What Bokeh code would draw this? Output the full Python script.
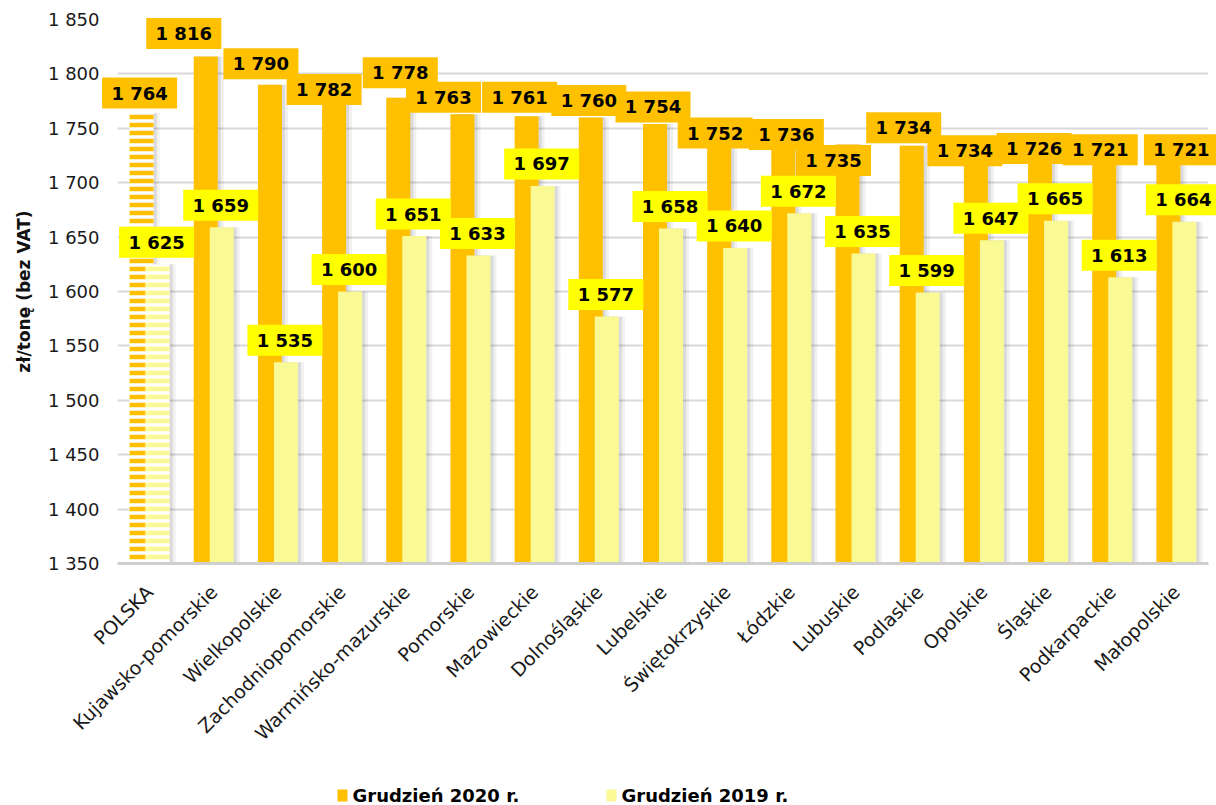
from bokeh.plotting import figure
from bokeh.layouts import column
from bokeh.models import Range1d, FixedTicker, ColumnDataSource
from bokeh.embed import file_html
from bokeh.resources import INLINE
from bokeh.core.properties import value

# ---------------- data ----------------
regions = ["POLSKA", "Kujawsko-pomorskie", "Wielkopolskie", "Zachodniopomorskie",
           "Warmińsko-mazurskie", "Pomorskie", "Mazowieckie", "Dolnośląskie",
           "Lubelskie", "Świętokrzyskie", "Łódzkie", "Lubuskie", "Podlaskie",
           "Opolskie", "Śląskie", "Podkarpackie", "Małopolskie"]
dec2020 = [1764, 1816, 1790, 1782, 1778, 1763, 1761, 1760, 1754, 1752,
           1736, 1735, 1734, 1734, 1726, 1721, 1721]
dec2019 = [1625, 1659, 1535, 1600, 1651, 1633, 1697, 1577, 1658, 1640,
           1672, 1635, 1599, 1647, 1665, 1613, 1664]
series_names = ["Grudzień 2020 r.", "Grudzień 2019 r."]
y_ticks = [1350, 1400, 1450, 1500, 1550, 1600, 1650, 1700, 1750, 1800, 1850]
y_tick_labels = ["1 350", "1 400", "1 450", "1 500", "1 550", "1 600",
                 "1 650", "1 700", "1 750", "1 800", "1 850"]
y_title = "zł/tonę (bez VAT)"

# ------------- layout / style -------------
W = 1216
H_MAIN, H_LEG = 763, 42
BL, BR, BT, BB = 117, 8, 19, 200
FW = W - BL - BR
FH = H_MAIN - BT - BB
Y0, Y1 = 1350, 1850
PX_X = FW / len(regions)
PX_Y = FH / (Y1 - Y0)
BAR_W = 24 / PX_X
OFF = 8 / PX_X

ORANGE = "#FFC000"
LIGHT = "#F9F996"
LBL_Y = "#FFFF00"
FONT = "DejaVu Sans"

# manual label shifts (pixels) for the 2020 series, as in the original chart
lab20_dx = [-2, -22, -9, -10, 2, -19, -7, -2, -2, -4, 3, -14, -8, -11, -6, -4, 13]
lab20_up = [20, 23, 21, 4, 25, 17, 19, 17, 17, -7, 9, -16, 18, -5, 6, 10, 10]
lab19_dx = -1
lab19_up = 22

def fmt(v):
    return f"{v:,}".replace(",", " ")

n = len(regions)
xc = [i + 0.5 for i in range(n)]

p = figure(width=W, height=H_MAIN, output_backend="svg", toolbar_location=None,
           x_range=Range1d(0, n), y_range=Range1d(Y0, Y1),
           min_border_left=BL, min_border_right=BR, min_border_top=BT,
           min_border_bottom=BB)
p.outline_line_color = None
p.background_fill_color = "white"
p.border_fill_color = "white"

# axes
p.xaxis.ticker = FixedTicker(ticks=xc)
p.xaxis.major_label_overrides = {x: r for x, r in zip(xc, regions)}
p.xaxis.major_label_orientation = 0.785398
p.xaxis.major_label_text_font = FONT
p.xaxis.major_label_text_font_size = "19px"
p.xaxis.major_label_text_color = "#1a1a1a"
p.xaxis.major_tick_out = 0
p.xaxis.major_tick_in = 0
p.xaxis.major_label_standoff = 25
p.xaxis.major_tick_line_color = None
p.xaxis.minor_tick_line_color = None
p.xaxis.axis_line_color = "#cfcfcf"
p.xaxis.axis_line_width = 3

p.yaxis.ticker = FixedTicker(ticks=y_ticks)
p.yaxis.major_label_overrides = {t: l for t, l in zip(y_ticks, y_tick_labels)}
p.yaxis.major_label_text_font = FONT
p.yaxis.major_label_text_font_size = "18px"
p.yaxis.major_label_text_color = "#1a1a1a"
p.yaxis.major_tick_out = 0
p.yaxis.major_tick_in = 0
p.yaxis.major_label_standoff = 18
p.yaxis.major_tick_line_color = None
p.yaxis.minor_tick_line_color = None
p.yaxis.axis_line_color = None
p.yaxis.axis_label = y_title
p.yaxis.axis_label_text_font = FONT
p.yaxis.axis_label_text_font_style = "bold"
p.yaxis.axis_label_text_font_size = "17px"
p.yaxis.axis_label_text_color = "#111111"
p.yaxis.axis_label_standoff = 11

p.xgrid.grid_line_color = None
p.ygrid.grid_line_color = "#d9d9d9"
p.ygrid.grid_line_width = 2

# sources
x20 = [x - OFF for x in xc]
x19 = [x + OFF for x in xc]
src20 = ColumnDataSource(dict(x=x20[1:], top=dec2020[1:]))
src19 = ColumnDataSource(dict(x=x19[1:], top=dec2019[1:]))
srcP20 = ColumnDataSource(dict(x=x20[:1], top=dec2020[:1]))
srcP19 = ColumnDataSource(dict(x=x19[:1], top=dec2019[:1]))

# soft shadows
for dx, extra, alpha in [(3, 6, 0.06), (2, 2, 0.09)]:
    sx = dx / PX_X
    p.vbar(x=[x + sx for x in x20], top=dec2020, bottom=Y0, width=BAR_W + extra / PX_X,
           fill_color="black", fill_alpha=alpha, line_color=None)
    p.vbar(x=[x + sx for x in x19], top=dec2019, bottom=Y0, width=BAR_W + extra / PX_X,
           fill_color="black", fill_alpha=alpha, line_color=None)

# bars
p.vbar(x="x", top="top", bottom=Y0, width=BAR_W, source=src20,
       fill_color=ORANGE, line_color=None)
p.vbar(x="x", top="top", bottom=Y0, width=BAR_W, source=srcP20,
       fill_color="white", line_color=None, hatch_pattern="horizontal_line",
       hatch_color=ORANGE, hatch_scale=8, hatch_weight=4.5)
p.vbar(x="x", top="top", bottom=Y0, width=BAR_W, source=src19,
       fill_color=LIGHT, line_color=None)
p.vbar(x="x", top="top", bottom=Y0, width=BAR_W, source=srcP19,
       fill_color="white", line_color=None, hatch_pattern="horizontal_line",
       hatch_color=LIGHT, hatch_scale=8, hatch_weight=4.5)

# data labels
lx20 = [x + d / PX_X for x, d in zip(x20, lab20_dx)]
ly20 = [v + u / PX_Y for v, u in zip(dec2020, lab20_up)]
lx19 = [x + lab19_dx / PX_X for x in x19]
ly19 = [v + lab19_up / PX_Y for v in dec2019]
lab20 = ColumnDataSource(dict(x=lx20, y=ly20, t=[fmt(v) for v in dec2020]))
lab19 = ColumnDataSource(dict(x=lx19, y=ly19, t=[fmt(v) for v in dec2019]))

for src, col in [(lab20, ORANGE), (lab19, LBL_Y)]:
    rb = p.rect(x="x", y="y", width=75, height=31, width_units="screen",
                height_units="screen", source=src, fill_color=col, line_color=None)
    rt = p.text(x="x", y="y", text="t", source=src, text_align="center",
                text_baseline="middle", text_font=value(FONT),
                text_font_style="bold", text_font_size="18px", text_color="black")
    rb.level = "overlay"
    rt.level = "overlay"

# legend strip (separate figure below the chart; its frame aligns with the chart's)
leg = figure(width=W, height=H_LEG, output_backend="svg", toolbar_location=None,
             x_range=Range1d(BL, W - BR), y_range=Range1d(0, H_LEG),
             x_axis_type=None, y_axis_type=None,
             min_border_left=BL, min_border_right=BR, min_border_top=0,
             min_border_bottom=0)
leg.outline_line_color = None
leg.xgrid.visible = False
leg.ygrid.visible = False
sw_x = [342, 611]
leg.rect(x=sw_x, y=[10, 10], width=10, height=12, width_units="screen",
         height_units="screen", fill_color=[ORANGE, LIGHT], line_color=None)
leg.text(x=[s + 10 for s in sw_x], y=[10, 10], text=series_names,
         text_align="left", text_baseline="middle", text_font=value(FONT),
         text_font_style="bold", text_font_size="18px", text_color="black")

layout = column(p, leg, spacing=0)
open("out.html", "w").write(file_html(layout, INLINE))
